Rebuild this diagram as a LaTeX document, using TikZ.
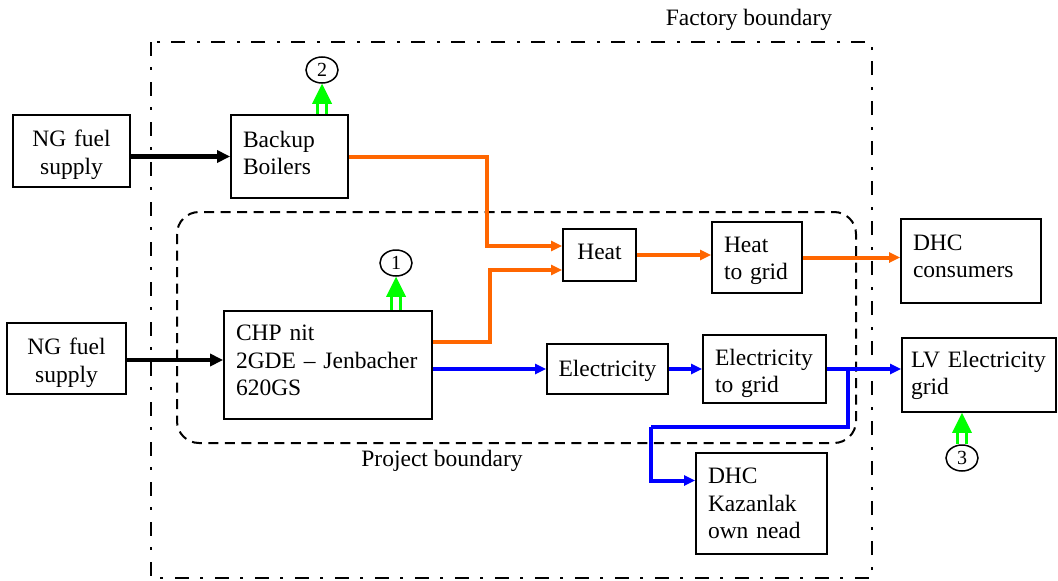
\documentclass[tikz,border=0pt]{standalone}
\usepackage{fontspec}
\setmainfont{Liberation Serif}
\usetikzlibrary{arrows.meta,shapes.geometric,calc}
\definecolor{gr}{RGB}{0,255,0}
\definecolor{org}{RGB}{255,102,0}
\definecolor{blu}{RGB}{0,0,255}
\newcommand\garrow[2]{%
  \draw[garr] ($(#1)+(-4.5,0)$) -- ($(#2)+(-4.5,19)$);
  \draw[garr] ($(#1)+(4.5,0)$) -- ($(#2)+(4.5,19)$);
  \fill[gr] (#2) -- ($(#2)+(-10,20)$) -- ($(#2)+(10,20)$) -- cycle;}
\tikzset{
  txt/.style={font=\fontsize{23.5}{27.5}\selectfont},
  vt/.style 2 args={execute at begin node={\rule{0pt}{#1pt}}, execute at end node={\rule[-#2pt]{0pt}{0pt}}},
  boxl/.style={draw, line width=1.8pt, txt, align=left, inner xsep=12pt, inner ysep=0pt},
  boxc/.style={draw, line width=1.8pt, txt, align=center, inner xsep=2pt, inner ysep=0pt},
  num/.style={draw, ellipse, line width=1.5pt, minimum width=32pt, minimum height=26pt, inner sep=0pt, font=\fontsize{20}{22}\selectfont},
  garr/.style={gr, line width=3pt},
  blk/.style={line width=4.5pt, -{Triangle[length=13pt,width=12pt]}},
  oarr/.style={org, line width=4pt, -{Triangle[length=11pt,width=10pt]}},
  barr/.style={blu, line width=4pt, -{Triangle[length=11pt,width=10pt]}},
  bline/.style={blu, line width=4pt},
  factory/.style={line width=2pt, dash pattern=on 14pt off 11pt on 3pt off 12pt},
  project/.style={line width=2pt, dash pattern=on 10pt off 6.5pt, rounded corners=22pt},
}
\begin{document}
\begin{tikzpicture}[x=1pt, y=-1pt]
\useasboundingbox (0,0) rectangle (1058,581);

% boundaries
\draw[factory] (151,42) rectangle (872,578);
\draw[project] (177,212) rectangle (856,443);
\node[txt] (flabel) at (749,20) {Factory boundary};
\node[txt] (plabel) at (442,461) {Project boundary};

% boxes
\node[boxc, vt={24.6}{6}, text width=113pt, minimum height=72pt] (ng1) at (71.5,151) {NG fuel\\supply};
\node[boxc, vt={25.6}{6}, text width=115pt, minimum height=71pt] (ng2) at (66.5,358.5) {NG fuel\\supply};
\node[boxl, vt={17}{8.5}, text width=93pt, minimum height=83pt] (bb) at (289.5,156.5) {Backup\\Boilers};
\node[boxl, vt={17}{10.6}, text width=184pt, minimum height=108pt] (chp) at (328,365) {CHP nit\\2GDE – Jenbacher\\620GS};
\node[boxc, vt={17}{8.4}, text width=69pt, minimum height=52pt] (heat) at (599.5,255) {Heat};
\node[boxl, vt={22.6}{6}, text width=66pt, minimum height=71pt] (htg) at (757,257.5) {Heat\\to grid};
\node[boxl, vt={17}{11.4}, text width=116pt, minimum height=84pt] (dhc) at (971,261) {DHC\\consumers};
\node[boxc, vt={20}{6}, text width=117pt, minimum height=50pt] (elec) at (607.5,369) {Electricity};
\node[boxl, vt={26}{6}, text width=99pt, minimum height=68pt] (etg) at (764.5,369) {Electricity\\to grid};
\node[boxl, vt={18.4}{6}, inner xsep=9pt, text width=136pt, minimum height=74pt] (lv) at (979,375) {LV Electricity\\grid};
\node[boxl, vt={21.6}{6}, text width=107pt, minimum height=101pt] (kaz) at (761.5,503.5) {DHC\\Kazanlak\\own nead};

% numbered circles
\node[num] (c2) at (322,70) {2};
\node[num] (c1) at (396,263) {1};
\node[num] (c3) at (962,458) {3};

% green arrows
\coordinate (g2b) at (bb.north -| c2);
\coordinate (g1b) at (chp.north -| c1);
\coordinate (g3t) at (lv.south -| c3);
\garrow{g2b}{c2.south}
\garrow{g1b}{c1.south}
\garrow{c3.north}{g3t}

% fuel arrows
\draw[blk] (ng1.east |- bb.west) -- (bb.west);
\draw[blk] ($(ng2.east)+(0,1.5)$) -- ($(ng2.east -| chp.west)+(0,1.5)$);

% heat flows
\coordinate (h1) at ($(heat.west)+(0,-9)$);
\coordinate (h2) at ($(heat.west)+(0,15)$);
\draw[oarr] (bb.east) -- ++(138,0) |- (h1);
\draw[oarr] ($(chp.east)+(0,-23)$) -- ++(57,0) |- (h2);
\draw[oarr] (heat.east) -- (heat.east -| htg.west);
\draw[oarr] (htg.east) -- (htg.east -| dhc.west);

% electricity flows
\draw[barr] (elec.west -| chp.east) -- (elec.west);
\draw[barr] (elec.east) -- (elec.east -| etg.west);
\draw[barr] (etg.east) -- (etg.east -| lv.west);
\coordinate (br) at ($(etg.east)!0.28!(etg.east -| lv.west)$);
\coordinate (k1) at ($(kaz.west)+(0,-23)$);
\draw[bline] (br) |- ($(k1)+(-44,-54)$);
\draw[barr] ($(k1)+(-44,-54)$) |- (k1);
\end{tikzpicture}
\end{document}
